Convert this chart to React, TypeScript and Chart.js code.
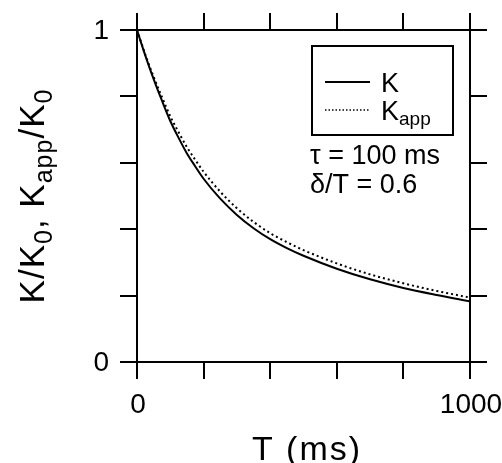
import { useEffect, useRef } from 'react';
import { Chart, registerables } from 'chart.js';

Chart.register(...registerables);

const T_MS = [0, 25, 50, 75, 100, 125, 150, 175, 200, 250, 300, 350, 400, 450, 500, 600, 700, 800, 900, 1000];
const K_RATIO = [1.0, 0.923, 0.852, 0.787, 0.726, 0.675, 0.628, 0.589, 0.552, 0.492, 0.443, 0.403, 0.37, 0.343, 0.32, 0.281, 0.249, 0.223, 0.202, 0.183];
const KAPP_RATIO = [1.0, 0.926, 0.859, 0.798, 0.74, 0.692, 0.647, 0.609, 0.573, 0.513, 0.463, 0.422, 0.388, 0.361, 0.337, 0.297, 0.264, 0.237, 0.214, 0.194];
const X_LABELED = [0, 1000];
const Y_LABELED = [0, 1];

const FONT = '"Liberation Sans", Arial, sans-serif';

type Seg = [string, 'main' | 'sub'];

function drawSegs(
  ctx: CanvasRenderingContext2D,
  segs: Seg[],
  x: number,
  y: number,
  main: number,
  sub: number,
  subOff: number,
  align: 'left' | 'center',
  spacing = 0
) {
  (ctx as any).letterSpacing = `${spacing}px`;
  const widths = segs.map(([t, k]) => {
    ctx.font = `${k === 'main' ? main : sub}px ${FONT}`;
    return ctx.measureText(t).width;
  });
  const total = widths.reduce((a, b) => a + b, 0);
  let cx = align === 'center' ? x - total / 2 : x;
  ctx.textAlign = 'left';
  ctx.textBaseline = 'alphabetic';
  segs.forEach(([t, k], i) => {
    ctx.font = `${k === 'main' ? main : sub}px ${FONT}`;
    ctx.fillText(t, cx, k === 'main' ? y : y + subOff);
    cx += widths[i];
  });
  (ctx as any).letterSpacing = '0px';
}

const annotations = {
  id: 'annotations',
  afterDraw(chart: any) {
    const ctx: CanvasRenderingContext2D = chart.ctx;
    const a = chart.chartArea;
    const xs = chart.scales.x;
    const ys = chart.scales.y;
    ctx.save();
    ctx.fillStyle = '#000';
    ctx.strokeStyle = '#000';

    // tick labels
    ctx.font = `28px ${FONT}`;
    ctx.textAlign = 'right';
    ctx.textBaseline = 'middle';
    Y_LABELED.forEach((v) => ctx.fillText(String(v), 109, ys.getPixelForValue(v) + 1));
    ctx.textAlign = 'center';
    ctx.textBaseline = 'alphabetic';
    X_LABELED.forEach((v) => ctx.fillText(String(v), xs.getPixelForValue(v) + 1, 413));

    // legend box
    ctx.lineWidth = 2;
    ctx.strokeRect(312, 46, 141, 89);
    ctx.beginPath();
    ctx.moveTo(325, 82);
    ctx.lineTo(370, 82);
    ctx.stroke();
    ctx.save();
    ctx.lineWidth = 1.5;
    ctx.setLineDash([1.5, 2]);
    ctx.beginPath();
    ctx.moveTo(325, 110);
    ctx.lineTo(370, 110);
    ctx.stroke();
    ctx.restore();
    drawSegs(ctx, [['K', 'main']], 381, 92, 27, 19, 5, 'left');
    drawSegs(ctx, [['K', 'main'], ['app', 'sub']], 381, 120, 27, 19, 5, 'left');

    // parameters
    drawSegs(ctx, [['τ = 100 ms', 'main']], 310, 164, 27, 19, 5, 'left');
    drawSegs(ctx, [['δ/T = 0.6', 'main']], 310, 193, 27, 19, 5, 'left');

    // x title
    drawSegs(ctx, [['T (ms)', 'main']], 307, 460, 34, 24, 6, 'center', 2);

    // y title
    ctx.save();
    ctx.translate(44, (a.top + a.bottom) / 2);
    ctx.rotate(-Math.PI / 2);
    drawSegs(
      ctx,
      [['K/K', 'main'], ['0', 'sub'], [', K', 'main'], ['app', 'sub'], ['/K', 'main'], ['0', 'sub']],
      0, 0, 35, 25, 8, 'center', 1
    );
    ctx.restore();
    ctx.restore();
  },
};

export default function App() {
  const ref = useRef<HTMLCanvasElement | null>(null);
  useEffect(() => {
    if (!ref.current) return;
    const tickGrid = {
      drawOnChartArea: false,
      drawTicks: true,
      tickLength: 17,
      lineWidth: 2,
      color: '#000',
    };
    const border = { display: true, width: 2, color: '#000' };
    const chart = new Chart(ref.current, {
      type: 'line',
      data: {
        datasets: [
          {
            label: 'K',
            data: T_MS.map((t, i) => ({ x: t, y: K_RATIO[i] })),
            borderColor: '#000',
            borderWidth: 2,
            pointRadius: 0,
            cubicInterpolationMode: 'monotone',
            fill: false,
          },
          {
            label: 'Kapp',
            data: T_MS.map((t, i) => ({ x: t, y: KAPP_RATIO[i] })),
            borderColor: '#000',
            borderWidth: 2,
            borderDash: [2, 3],
            pointRadius: 0,
            cubicInterpolationMode: 'monotone',
            fill: false,
          },
        ],
      },
      options: {
        animation: false,
        responsive: false,
        devicePixelRatio: 1,
        layout: { padding: 0 },
        plugins: { legend: { display: false }, tooltip: { enabled: false } },
        scales: {
          x: {
            type: 'linear',
            position: 'bottom',
            min: 0,
            max: 1000,
            grid: tickGrid,
            border,
            ticks: { stepSize: 200, display: false },
            afterFit: (s: any) => { s.height = 101; },
          },
          x2: {
            type: 'linear',
            position: 'top',
            min: 0,
            max: 1000,
            grid: tickGrid,
            border,
            ticks: { stepSize: 200, display: false },
            afterFit: (s: any) => { s.height = 30; },
          },
          y: {
            type: 'linear',
            position: 'left',
            min: 0,
            max: 1,
            grid: tickGrid,
            border,
            ticks: { stepSize: 0.2, display: false },
            afterFit: (s: any) => { s.width = 137; },
          },
          y2: {
            type: 'linear',
            position: 'right',
            min: 0,
            max: 1,
            grid: tickGrid,
            border,
            ticks: { stepSize: 0.2, display: false },
            afterFit: (s: any) => { s.width = 32; },
          },
        },
      },
      plugins: [annotations],
    } as any);
    return () => chart.destroy();
  }, []);
  return (
    <div style={{ position: 'absolute', left: 0, top: 0, width: 502, height: 463, background: '#fff' }}>
      <canvas ref={ref} width={502} height={463} style={{ display: 'block' }} />
    </div>
  );
}
